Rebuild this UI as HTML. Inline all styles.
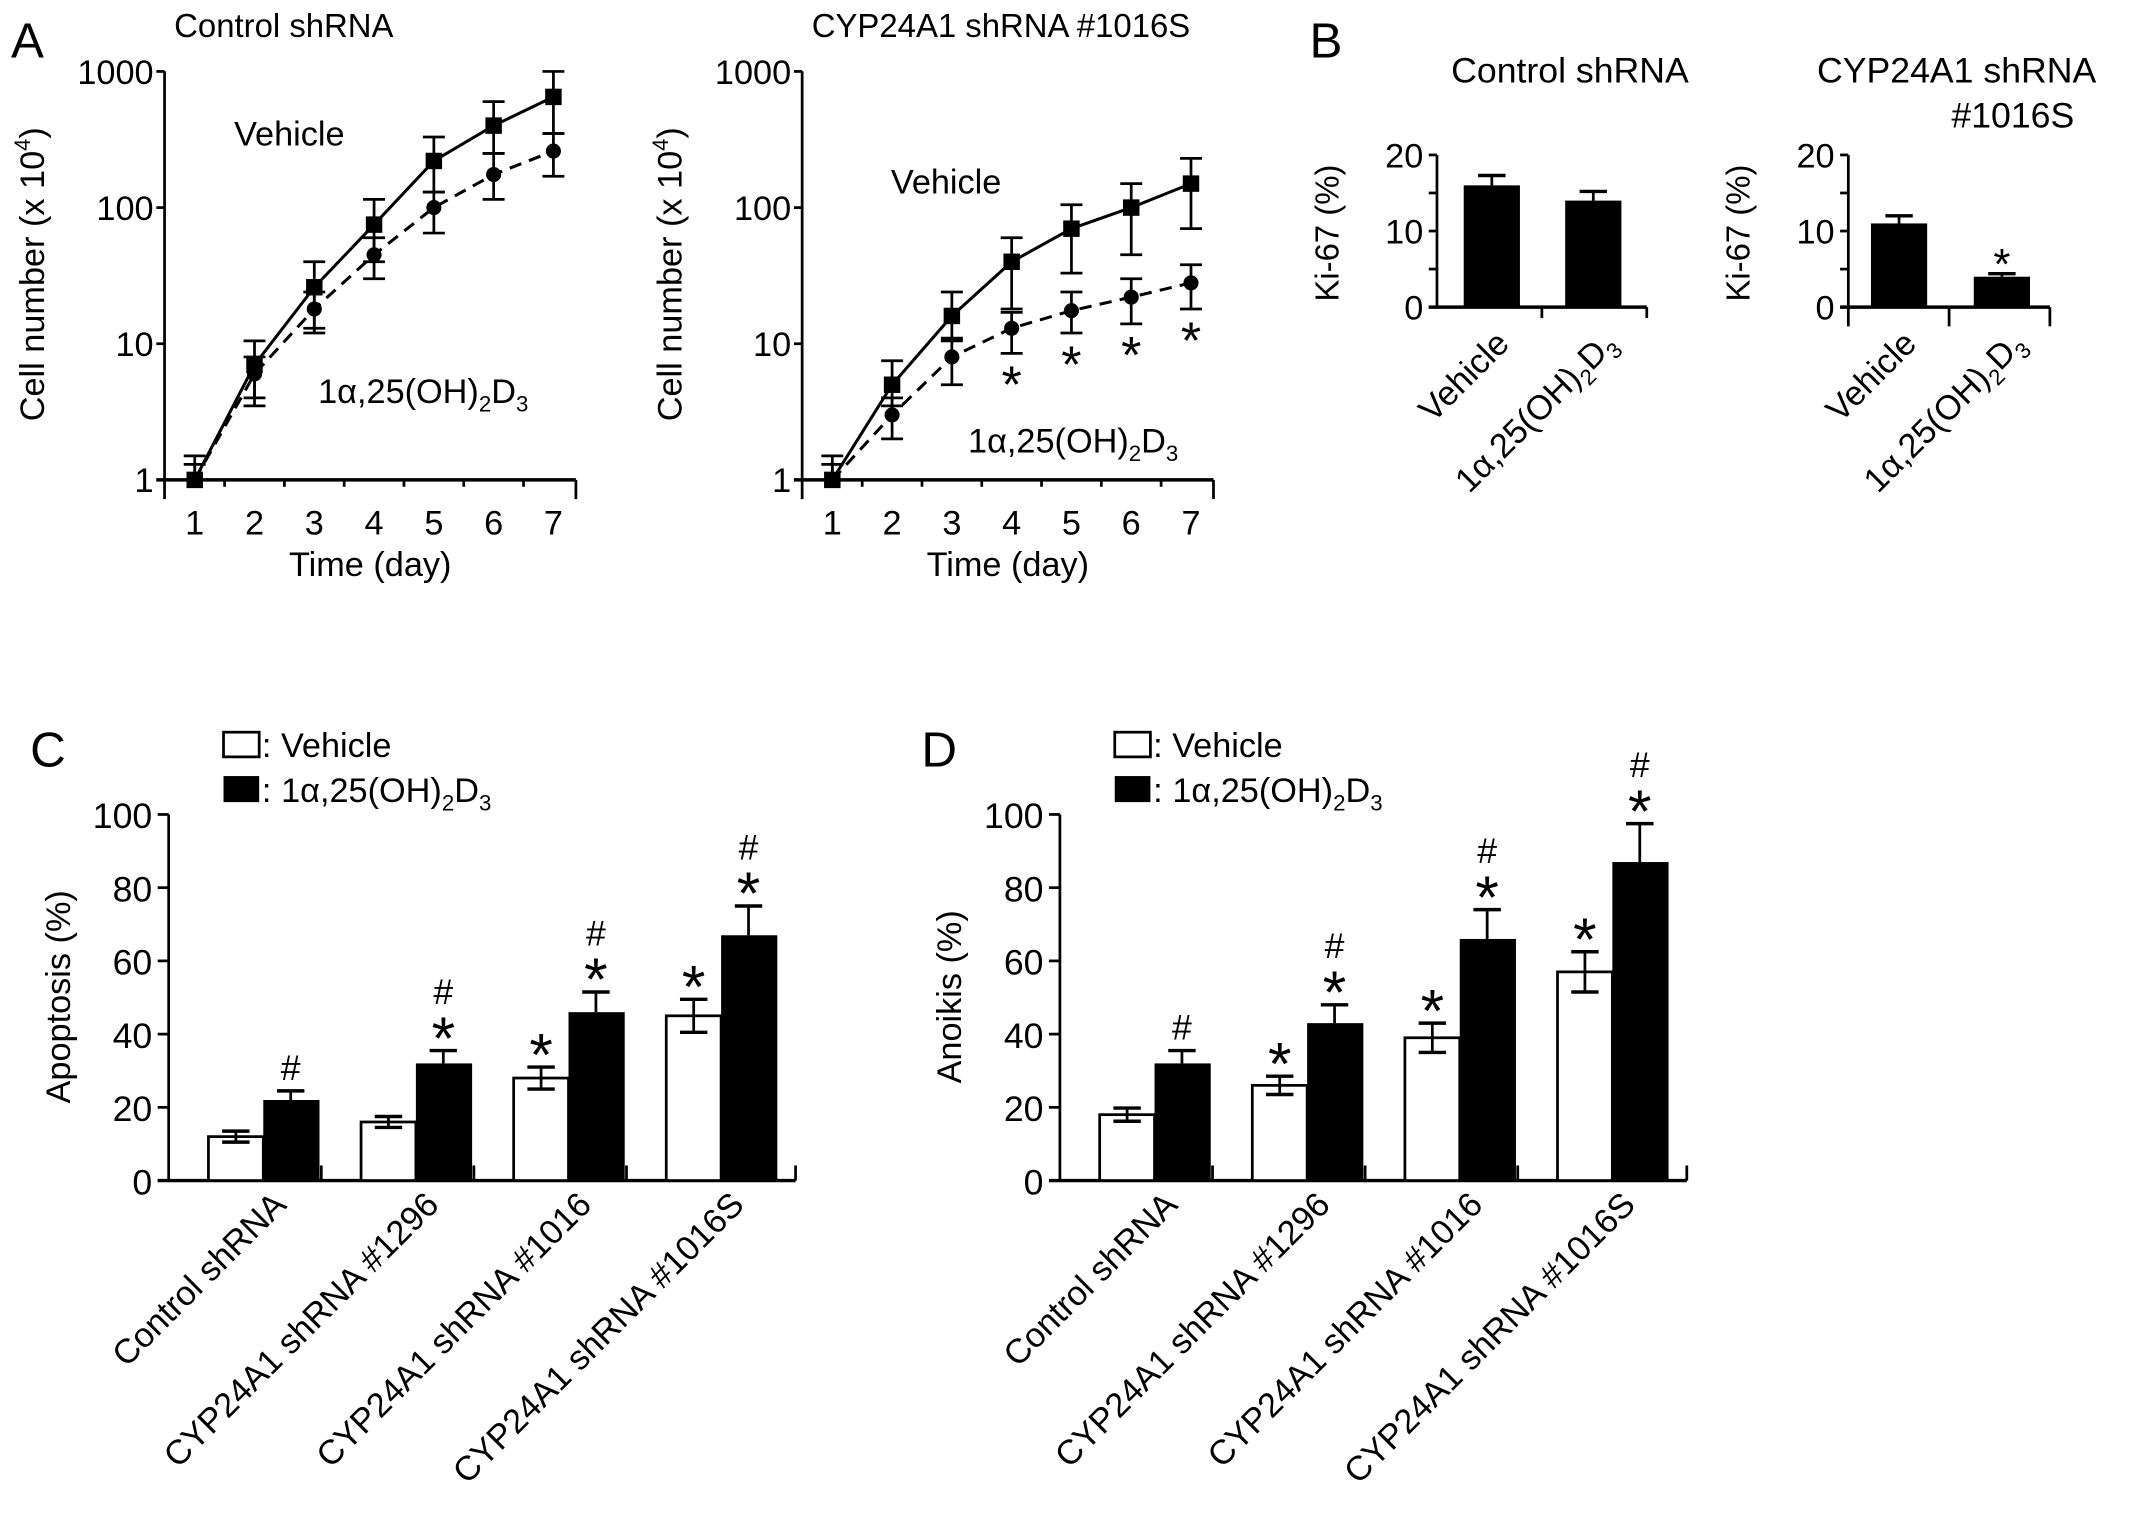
<!DOCTYPE html>
<html><head><meta charset="utf-8"><style>
html,body{margin:0;padding:0;background:#fff}
svg{display:block;font-family:"Liberation Sans",Arial,sans-serif}
</style></head><body>
<svg id="fig" width="2150" height="1528" viewBox="0 0 1568 1114.4" xmlns="http://www.w3.org/2000/svg">
<g id="root" fill="#000" stroke="none"></g>
</svg>
<script>
// ---------- data ----------
const days = [1,2,3,4,5,6,7];
const ctlVeh = [1,7,26,75,220,400,650];
const ctlVehHi = [1.5,10.5,40,115,330,600,1000];
const ctlVehLo = [1,4,13,40,130,250,350];
const ctlD3 = [1,6,18,45,100,175,260];
const ctlD3Hi = [1.3,8,24,60,130,250,350];
const ctlD3Lo = [1,3.5,12,30,65,115,170];
const kdVeh = [1,5,16,40,70,100,150];
const kdVehHi = [1.5,7.5,24,60,105,150,230];
const kdVehLo = [1,3.5,10.5,18,33,45,70];
const kdD3 = [1,3,8,13,17.5,22,28];
const kdD3Hi = [1.3,4,11,17,24,30,38];
const kdD3Lo = [1,2,5,8.5,12,14,18];
const kdStars = [false,false,false,true,true,true,true];
const yLogTicks = [1,10,100,1000];

const kiGroups = ["Vehicle","D3"];
const kiCtl = [16,14];
const kiCtlErr = [1.3,1.2];
const kiKd = [11,4];
const kiKdErr = [1,0.4];
const kiTicks = [0,10,20];

const groups = ["Control shRNA","CYP24A1 shRNA #1296","CYP24A1 shRNA #1016","CYP24A1 shRNA #1016S"];
const apoVeh = [12,16,28,45];
const apoVehErr = [1.5,1.5,3,4.5];
const apoD3 = [22,32,46,67];
const apoD3Err = [2.5,3.5,5.5,8];
const apoVehMark = ["","","*","*"];
const apoD3Mark = ["#","#*","#*","#*"];
const anoVeh = [18,26,39,57];
const anoVehErr = [1.8,2.5,4,5.5];
const anoD3 = [32,43,66,87];
const anoD3Err = [3.5,5,8,10.5];
const anoVehMark = ["","*","*","*"];
const anoD3Mark = ["#","#*","#*","#*"];
const pctTicks = [0,20,40,60,80,100];

// ---------- helpers ----------
const NS="http://www.w3.org/2000/svg";
const root=document.getElementById('root');
function mk(tag,attrs,parent){const e=document.createElementNS(NS,tag);for(const k in attrs)e.setAttribute(k,attrs[k]);(parent||root).appendChild(e);return e;}
function line(x1,y1,x2,y2,w,p,dash){const e=mk('line',{x1,y1,x2,y2,stroke:'#000','stroke-width':w||2},p);if(dash)e.setAttribute('stroke-dasharray',dash);return e;}
function txt(x,y,s,size,anchor,p){const e=mk('text',{x,y,'font-size':size||24,'text-anchor':anchor||'middle',fill:'#000'},p);e.textContent=s;return e;}
function d3label(x,y,size,anchor,p,rot){
  const e=mk('text',{x,y,'font-size':size,'text-anchor':anchor||'start',fill:'#000'},p);
  if(rot)e.setAttribute('transform',rot);
  e.appendChild(document.createTextNode('1α,25(OH)'));
  const s1=mk('tspan',{'font-size':size*0.65,dy:size*0.25},e);s1.textContent='2';
  const s2=mk('tspan',{dy:-size*0.25},e);s2.textContent='D';
  const s3=mk('tspan',{'font-size':size*0.65,dy:size*0.25},e);s3.textContent='3';
  return e;
}
function star(x,y,size,p){return txt(x,y,'*',size||34,'middle',p);}

// ---------- panel A ----------
function growth(ox,title,veh,vhi,vlo,d3,dhi,dlo,stars,name,vehLabelPos,d3LabelPos){
  const g=mk('g',{},root);
  
  
  const X=d=>ox+22+(d-1)*43.6;
  const Y=v=>350-Math.log10(v)*99.3;
  line(ox,52,ox,364,2,g);
  line(ox-6,350,ox+300,350,2.5,g);
  line(ox+300,350,ox+300,364,2,g);
  yLogTicks.forEach(t=>{line(ox-6,Y(t),ox,Y(t),2,g);const tl=txt(ox-8,Y(t)+9,String(t),25,'end',g);});
  days.forEach((d,i)=>{ if(i<days.length-1) line(X(d)+21.8,350,X(d)+21.8,355,2,g);
    const tl=txt(X(d),390,String(d),25,'middle',g);});
  const xt=txt(ox+150,420,'Time (day)',25,'middle',g);
  const yt=txt(0,0,'',25,'middle',g);yt.setAttribute('transform',`translate(${ox-88},200) rotate(-90)`);
  yt.appendChild(document.createTextNode('Cell number (x 10'));const sp=mk('tspan',{'font-size':16,dy:-10},yt);sp.textContent='4';const sp2=mk('tspan',{dy:10},yt);sp2.textContent=')';
  
  const tt=txt(ox+7,27,title,24,'start',g);
  const pd=days.map((d,i)=>`${X(d)},${Y(d3[i])}`).join(' ');
  const l2=mk('polyline',{points:pd,fill:'none',stroke:'#000','stroke-width':2.2,'stroke-dasharray':'9,6'},g);
  
  const pv=days.map((d,i)=>`${X(d)},${Y(veh[i])}`).join(' ');
  const l1=mk('polyline',{points:pv,fill:'none',stroke:'#000','stroke-width':2.2},g);
  
  days.forEach((d,i)=>{
    const x=X(d);
    line(x,Y(dhi[i]),x,Y(dlo[i]),2,g);line(x-8,Y(dhi[i]),x+8,Y(dhi[i]),2,g);line(x-8,Y(dlo[i]),x+8,Y(dlo[i]),2,g);
    const c=mk('circle',{cx:x,cy:Y(d3[i]),r:5.5,fill:'#000'},g);
    
    line(x,Y(vhi[i]),x,Y(vlo[i]),2,g);line(x-8,Y(vhi[i]),x+8,Y(vhi[i]),2,g);line(x-8,Y(vlo[i]),x+8,Y(vlo[i]),2,g);
    const r=mk('rect',{x:x-6,y:Y(veh[i])-6,width:12,height:12,fill:'#000'},g);
    
    if(stars&&stars[i]){const s=star(x,Y(dlo[i])+36,38,g);}
  });
  const vl=txt(vehLabelPos[0],vehLabelPos[1],'Vehicle',25,'middle',g);
  const dl=d3label(d3LabelPos[0],d3LabelPos[1],25,'start',g);
}
const la=txt(8,42,'A',36,'start');
growth(120,'Control shRNA',ctlVeh,ctlVehHi,ctlVehLo,ctlD3,ctlD3Hi,ctlD3Lo,null,'growth-chart-control',[211,106],[232,294]);
growth(585,'CYP24A1 shRNA #1016S',kdVeh,kdVehHi,kdVehLo,kdD3,kdD3Hi,kdD3Lo,kdStars,'growth-chart-knockdown',[690,141],[706,330]);

// ---------- panel B ----------
function kiChart(ox,W,offs,vals,errs,name,titleLines,titleXs,extend,starIdx){
  const g=mk('g',{},root);
  
  
  const Y=v=>224-v*5.55;
  line(ox,Y(20),ox,extend?238:224,2,g);
  line(ox-6,224,ox+W,224,2.5,g);
  [0,5,10,15,20].forEach(t=>line(ox-6,Y(t),ox,Y(t),2,g));
  kiTicks.forEach(t=>{const tl=txt(ox-10,Y(t)+9,String(t),25,'end',g);});
  line(ox+W/2,224,ox+W/2,extend?238:232,2,g);
  line(ox+W,224,ox+W,extend?238:232,2,g);
  const yt=txt(0,0,'Ki-67 (%)',24,'middle',g);yt.setAttribute('transform',`translate(${ox-72},170) rotate(-90)`);
  
  vals.forEach((v,i)=>{
    const cx=ox+offs[i];
    const b=mk('rect',{x:cx-20.5,y:Y(v),width:41,height:224-Y(v),fill:'#000'},g);
    
    line(cx,Y(v),cx,Y(v+errs[i]),2,g);line(cx-10,Y(v+errs[i]),cx+10,Y(v+errs[i]),2.5,g);
    if(starIdx===i){const s=star(cx,Y(v+errs[i])+4,32,g);}
  });
  const l1=txt(0,0,'Vehicle',25,'end',g);
  l1.setAttribute('transform',`translate(${ox+offs[0]+14},252) rotate(-45)`);
  
  const l2=d3label(0,0,25,'end',g,`translate(${ox+offs[1]+18},252) rotate(-45)`);
  
  titleLines.forEach((t,j)=>{const tt=txt(titleXs[j],60+j*33,t,26,'middle',g);});
}
const lb=txt(955,42,'B',36,'start');
kiChart(1048,153,[40,114],kiCtl,kiCtlErr,'ki67-chart-control',['Control shRNA'],[1145],false,-1);
kiChart(1348,147,[37,112],kiKd,kiKdErr,'ki67-chart-knockdown',['CYP24A1 shRNA','#1016S'],[1427,1468],true,1);

// ---------- panels C/D ----------
function barChart(ox,veh,vehErr,d3,d3Err,vm,dm,name,ytitle,letter,lx){
  const g=mk('g',{},root);
  
  
  const Y=v=>861-v*2.67;
  const GW=111.3;
  line(ox,Y(100),ox,861,2,g);
  line(ox-8,861,ox+GW*4+12,861,2.5,g);
  pctTicks.forEach(t=>{line(ox-8,Y(t),ox,Y(t),2,g);const tl=txt(ox-12,Y(t)+10,String(t),26,'end',g);});
  for(let k=1;k<=4;k++){const x=ox+GW*k+(k===4?12:0);line(x,861,x,850,2,g);}
  const yt=txt(0,0,ytitle,25,'middle',g);yt.setAttribute('transform',`translate(${ox-72},727) rotate(-90)`);
  
  groups.forEach((gn,i)=>{
    const c=ox+GW*i+69;
    const w=mk('rect',{x:c-40,y:Y(veh[i]),width:40,height:861-Y(veh[i]),fill:'#fff',stroke:'#000','stroke-width':2},g);
    
    const b=mk('rect',{x:c,y:Y(d3[i]),width:41,height:861-Y(d3[i]),fill:'#000'},g);
    
    const wx=c-20;line(wx,Y(veh[i]-vehErr[i]),wx,Y(veh[i]+vehErr[i]),2,g);
    line(wx-10,Y(veh[i]+vehErr[i]),wx+10,Y(veh[i]+vehErr[i]),2.5,g);line(wx-10,Y(veh[i]-vehErr[i]),wx+10,Y(veh[i]-vehErr[i]),2.5,g);
    const bx=c+20;line(bx,Y(d3[i]),bx,Y(d3[i]+d3Err[i]),2,g);line(bx-10,Y(d3[i]+d3Err[i]),bx+10,Y(d3[i]+d3Err[i]),2.5,g);
    let top=Y(veh[i]+vehErr[i]);
    if(vm[i].includes('*')){const s=star(wx,top+6,44,g);}
    top=Y(d3[i]+d3Err[i]);
    if(dm[i].includes('*')){const s=star(bx,top+6,44,g);top-=26;}
    if(dm[i].includes('#')){const h=txt(bx,top-8,'#',26,'middle',g);}
    const xl=txt(0,0,gn,25,'end',g);xl.setAttribute('transform',`translate(${c+18},880) rotate(-45)`);
    
  });
  const L=txt(lx,597-38,letter,36,'start');
  
  const lg=mk('g',{},g);
  const r1=mk('rect',{x:ox+40,y:534,width:26,height:18,fill:'#fff',stroke:'#000','stroke-width':2},lg);
  
  const t1=txt(ox+68,552,': Vehicle',25,'start',lg);
  const r2=mk('rect',{x:ox+40,y:566,width:26,height:19,fill:'#000'},lg);
  
  const t2=txt(ox+68,585,': ',25,'start',lg);
  const t3=d3label(ox+82,585,25,'start',lg);
}
barChart(123,apoVeh,apoVehErr,apoD3,apoD3Err,apoVehMark,apoD3Mark,'apoptosis-chart','Apoptosis (%)','C',22);
barChart(773,anoVeh,anoVehErr,anoD3,anoD3Err,anoVehMark,anoD3Mark,'anoikis-chart','Anoikis (%)','D',672);
</script>
</body></html>
